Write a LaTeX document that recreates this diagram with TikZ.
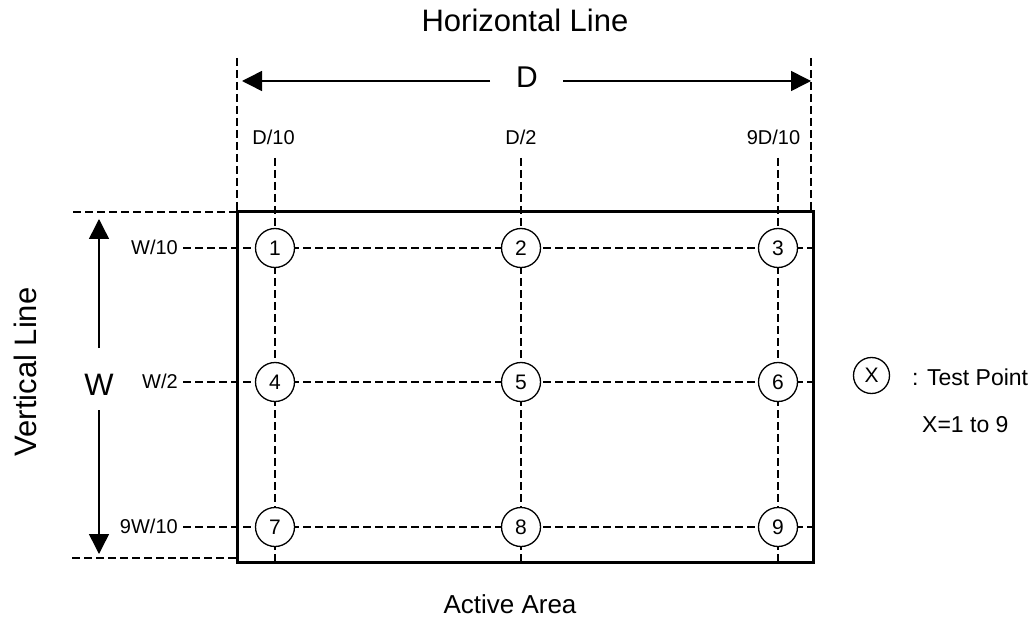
\documentclass[tikz,border=0pt]{standalone}
\usepackage{fontspec}
\setmainfont{Liberation Sans}
\usetikzlibrary{arrows.meta}
\begin{document}
\begin{tikzpicture}[x=1pt,y=-1pt,
  gridline/.style={line width=1.3pt,dash pattern=on 8pt off 4pt},
  ext/.style={line width=1.3pt,dash pattern=on 8pt off 4pt},
  tp/.style={circle,draw,line width=1.3pt,fill=white,minimum size=39pt,inner sep=0pt,font=\fontsize{21}{24}\selectfont},
  small/.style={font=\fontsize{20}{23}\selectfont,inner sep=0pt},
  big/.style={font=\fontsize{31}{36}\selectfont,inner sep=0pt},
  dimarrow/.style={line width=1.5pt,-{Triangle[length=20pt,width=20pt]}}]
\useasboundingbox (0,0) rectangle (1035,620);
% titles
\node[big,anchor=base] (htitle) at (525,32) {Horizontal Line};
\node[big,rotate=90] (vtitle) at (25,372) {Vertical Line};
\node[font=\fontsize{26}{30}\selectfont,inner sep=0pt,anchor=base] (aa) at (510,613) {Active Area};
% extension lines
\coordinate (eL1) at (237,58); \coordinate (eL2) at (237,212);
\coordinate (eR1) at (811,58); \coordinate (eR2) at (811,212);
\coordinate (eT1) at (73,212); \coordinate (eT2) at (237,212);
\coordinate (eB1) at (72,558); \coordinate (eB2) at (237,558);
\draw[ext] (eL1) -- (eL2);
\draw[ext] (eR1) -- (eR2);
\draw[ext] (eT1) -- (eT2);
\draw[ext] (eB1) -- (eB2);
% D arrow
\node[font=\fontsize{30}{34}\selectfont,inner sep=0pt,anchor=base] (D) at (527,88) {D};
\coordinate (Dl) at (490,81); \coordinate (Dr) at (563,81);
\coordinate (Dlt) at (242,81); \coordinate (Drt) at (811,81);
\draw[dimarrow] (Dl) -- (Dlt);
\draw[dimarrow] (Dr) -- (Drt);
% W arrow
\node[font=\fontsize{31}{34}\selectfont,inner sep=0pt,anchor=base] (W) at (99,395) {W};
\coordinate (Wt) at (99,348); \coordinate (Wb) at (99,410);
\coordinate (Wtt) at (99,219); \coordinate (Wbt) at (99,554);
\draw[dimarrow] (Wt) -- (Wtt);
\draw[dimarrow] (Wb) -- (Wbt);
% column labels
\node[small,anchor=base] (cl1) at (273.5,145) {D/10};
\node[small,anchor=base] (cl2) at (521,145) {D/2};
\node[small,anchor=base] (cl3) at (773.5,145) {9D/10};
% row labels
\node[small,anchor=base east] (rl1) at (178,254.5) {W/10};
\node[small,anchor=base east] (rl2) at (178,388.5) {W/2};
\node[small,anchor=base east] (rl3) at (178,533.5) {9W/10};
% grid lines
\foreach \x [count=\i] in {275,521,778} {
  \coordinate (vt\i) at (\x,158); \coordinate (vb\i) at (\x,561);
  \draw[gridline] (vt\i) -- (vb\i);
}
\foreach \y [count=\i] in {248,382,527} {
  \coordinate (hl\i) at (183,\y); \coordinate (hr\i) at (813,\y);
  \draw[gridline] (hl\i) -- (hr\i);
}
% active area rectangle
\coordinate (rTL) at (237,212); \coordinate (rBR) at (813,562);
\draw[line width=3pt] (rTL) rectangle (rBR);
% test points
\node[tp] (c1) at (275,248) {1};
\node[tp] (c2) at (521,248) {2};
\node[tp] (c3) at (778,248) {3};
\node[tp] (c4) at (275,382) {4};
\node[tp] (c5) at (521,382) {5};
\node[tp] (c6) at (778,382) {6};
\node[tp] (c7) at (275,527) {7};
\node[tp] (c8) at (521,527) {8};
\node[tp] (c9) at (778,527) {9};
% legend
\node[tp,minimum size=36pt] (cx) at (871.5,375.5) {X};
\node[font=\fontsize{23}{26}\selectfont,inner sep=0pt,anchor=base west] (lg1) at (912,385) {: Test Point};
\node[font=\fontsize{23}{26}\selectfont,inner sep=0pt,anchor=base west] (lg2) at (922,432) {X=1 to 9};
\end{tikzpicture}
\end{document}
